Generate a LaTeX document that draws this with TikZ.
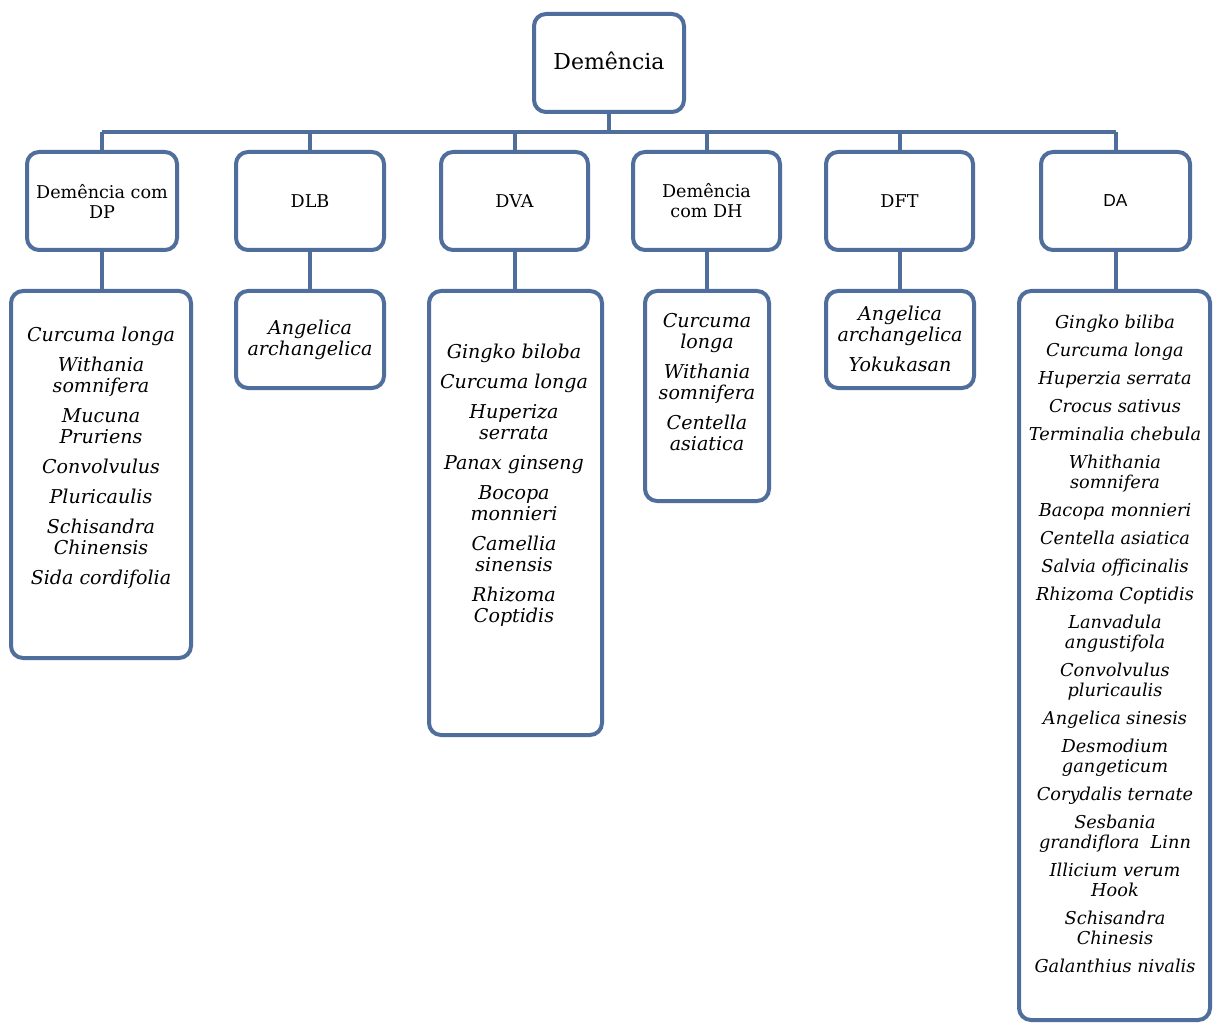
\documentclass[tikz,border=0pt]{standalone}
\usepackage{fontspec}
\setmainfont{DejaVu Serif}
\setsansfont{Liberation Sans}
\usetikzlibrary{fit}
\definecolor{bc}{RGB}{79,110,155}
\newcommand\itemgap{\\[6.75pt]}
\newcommand\itemgapb{\\[6pt]}
\begin{document}
\begin{tikzpicture}[x=0.75pt,y=-0.75pt,
 box/.style={draw=bc,line width=3pt,rounded corners=9pt,fill=white,inner sep=0pt},
 link/.style={draw=bc,line width=3pt},
 head/.style={align=center,inner sep=0pt,font=\fontsize{13.2}{15}\selectfont},
 items/.style={align=center,inner sep=0pt,anchor=north,font=\fontsize{14.3}{15.75}\selectfont\itshape},
 itemsb/.style={align=center,inner sep=0pt,anchor=north,font=\fontsize{13.3}{15}\selectfont\itshape},
]
\useasboundingbox (0,0) rectangle (1213,1023);
\fill[white] (0,0) rectangle (1213,1023);
% bus
\coordinate (busL) at (102,132);
\coordinate (busR) at (1116,132);
\draw[link] (busL) -- (busR);
% root
\node[box,fit={(534,14) (684,112)}] (root) {};
\node[head,font=\fontsize{16.5}{18}\selectfont] (roott) at ([yshift=1.5pt]root.center) {Demência};
\draw[link] (root.south) -- (root.south |- busL);
% level 2
\node[box,fit={(27,152) (177,250)}] (dp) {};
\node[box,fit={(236,152) (384,250)}] (dlb) {};
\node[box,fit={(441,152) (588,250)}] (dva) {};
\node[box,fit={(633,152) (780,250)}] (dh) {};
\node[box,fit={(826,152) (973,250)}] (dft) {};
\node[box,fit={(1041,152) (1190,250)}] (da) {};
\node[head] (dpt) at (dp.center) {Demência com\\DP};
\node[head] (dlbt) at (dlb.center) {DLB};
\node[head] (dvat) at (dva.center) {DVA};
\node[head] (dht) at (dh.center) {Demência\\com DH};
\node[head] (dftt) at (dft.center) {DFT};
\node[head,font=\sffamily\fontsize{13}{15}\selectfont] (dat) at (da.center) {DA};
\foreach \n in {dp,dlb,dva,dh,dft,da}{
  \draw[link] (\n.north) -- (\n.north |- busL);
}
% leaves
\node[box,fit={(11,291) (191,658)}] (dpl) {};
\node[box,fit={(236,291) (384,388)}] (dlbl) {};
\node[box,fit={(429,291) (602,735)}] (dval) {};
\node[box,fit={(645,291) (769,501)}] (dhl) {};
\node[box,fit={(826,291) (974,388)}] (dftl) {};
\node[box,fit={(1019,291) (1210,1020)}] (dal) {};
\foreach \n in {dp,dlb,dva,dh,dft,da}{
  \draw[link] (\n.south) -- (\n.south |- \n l.north);
}
% leaf texts
\node[items] (dplt) at (101,327) {Curcuma longa\itemgap Withania\\somnifera\itemgap Mucuna\\Pruriens\itemgap Convolvulus\itemgap Pluricaulis\itemgap Schisandra\\Chinensis\itemgap Sida cordifolia};
\node[items] (dlblt) at (310,320) {Angelica\\archangelica};
\node[items] (dvalt) at (514,344) {Gingko biloba\itemgap Curcuma longa\itemgap Huperiza\\serrata\itemgap Panax ginseng\itemgap Bocopa\\monnieri\itemgap Camellia\\sinensis\itemgap Rhizoma\\Coptidis};
\node[items] (dhlt) at (707,313) {Curcuma\\longa\itemgap Withania\\somnifera\itemgap Centella\\asiatica};
\node[items] (dftlt) at (900,306) {Angelica\\archangelica\itemgap Yokukasan};
\node[itemsb] (dalt) at (1115,315) {Gingko biliba\itemgapb Curcuma longa\itemgapb Huperzia serrata\itemgapb Crocus sativus\itemgapb Terminalia chebula\itemgapb Whithania\\somnifera\itemgapb Bacopa monnieri\itemgapb Centella asiatica\itemgapb Salvia officinalis\itemgapb Rhizoma Coptidis\itemgapb Lanvadula\\angustifola\itemgapb Convolvulus\\pluricaulis\itemgapb Angelica sinesis\itemgapb Desmodium\\gangeticum\itemgapb Corydalis ternate\itemgapb Sesbania\\grandiflora~ Linn\itemgapb Illicium verum\\Hook\itemgapb Schisandra\\Chinesis\itemgapb Galanthius nivalis};
\end{tikzpicture}
\end{document}
